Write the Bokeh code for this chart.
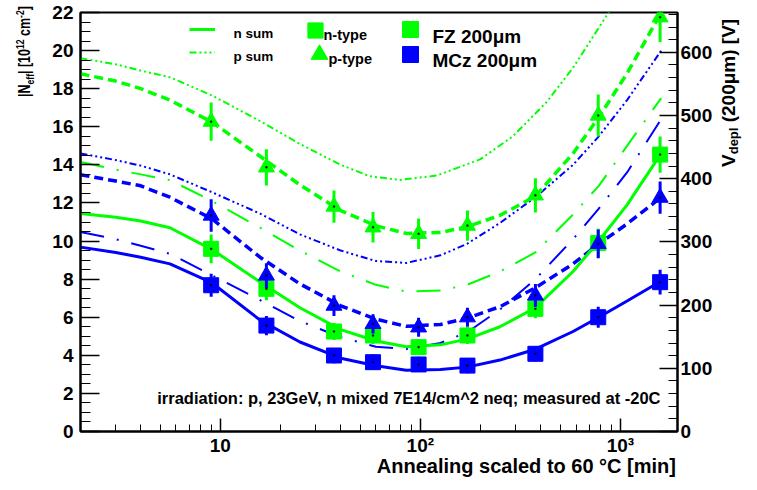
from bokeh.plotting import figure
from bokeh.layouts import row, column
from bokeh.models import (Range1d, LinearAxis, SingleIntervalTicker, FixedTicker,
                          Label, Legend, LegendItem, Div)
from bokeh.embed import file_html
from bokeh.resources import INLINE

FONT = "Liberation Sans"
GREEN = "#00ff00"
BLUE = "#0000ff"

# ---------------- data ----------------
anneal_t = [9, 17, 37, 58, 98, 172, 376, 775, 1580]          # min at 60C

fz_n = [9.59, 7.49, 5.25, 5.04, 4.43, 5.04, 6.44, 9.9, 14.54]
fz_n_err = [0.75, 0.6, 0.45, 0.45, 0.4, 0.45, 0.5, 0.75, 0.95]
mcz_n = [7.68, 5.56, 3.99, 3.64, 3.52, 3.46, 4.08, 6.0, 7.84]
mcz_n_err = [0.6, 0.5, 0.4, 0.4, 0.4, 0.4, 0.4, 0.55, 0.65]
fz_p = [16.27, 13.87, 11.81, 10.72, 10.38, 10.81, 12.4, 16.59, 21.75]
fz_p_err = [1.0, 0.95, 0.85, 0.8, 0.8, 0.8, 0.9, 1.1, 1.3]
mcz_p = [11.34, 8.19, 6.61, 5.65, 5.47, 6.0, 7.14, 9.85, 12.28]
mcz_p_err = [0.85, 0.65, 0.55, 0.5, 0.5, 0.5, 0.6, 0.75, 0.85]

# fitted / summed curves
fit_t = [2, 3, 4, 5.6, 9.1, 15.8, 25, 40, 60, 85, 126, 171, 250, 376, 580, 780, 1080, 1600]
mcz_n_fit = [9.68, 9.4, 9.15, 8.8, 7.8, 5.85, 4.7, 3.85, 3.45, 3.22, 3.25, 3.38, 3.75, 4.32, 5.25, 6.0, 6.85, 7.9]
fz_n_fit = [11.45, 11.25, 11.05, 10.7, 9.55, 7.85, 6.5, 5.35, 4.75, 4.45, 4.55, 4.85, 5.5, 6.5, 8.4, 10.0, 11.9, 14.6]
mcz_p_fit = [13.48, 13.15, 12.9, 12.3, 11.16, 9.15, 7.75, 6.6, 5.9, 5.52, 5.62, 5.95, 6.55, 7.55, 8.8, 9.85, 10.9, 12.3]
fz_p_fit = [18.78, 18.4, 18.0, 17.4, 16.24, 14.45, 12.95, 11.6, 10.8, 10.4, 10.45, 10.75, 11.35, 12.35, 14.6, 16.5, 18.8, 22.0]
fz_n_sum = [14.15, 13.75, 13.5, 13.2, 12.1, 10.7, 9.5, 8.4, 7.7, 7.35, 7.4, 7.7, 8.4, 9.4, 11.4, 12.9, 15.0, 17.5]
mcz_n_sum = [10.48, 10.1, 9.75, 9.33, 8.2, 6.9, 5.8, 4.95, 4.45, 4.33, 4.65, 5.2, 6.4, 8.0, 10.1, 11.7, 13.6, 16.4]
mcz_p_sum = [14.6, 14.25, 13.96, 13.5, 12.56, 11.44, 10.35, 9.5, 8.95, 8.85, 9.25, 9.85, 10.95, 12.3, 14.0, 15.5, 17.4, 20.0]
fz_p_sum_t = [2, 3, 4, 5.6, 9.1, 15.8, 25, 40, 56, 79, 121, 200, 290, 428, 580, 780, 880]
fz_p_sum = [19.6, 19.28, 18.95, 18.6, 17.64, 16.3, 15.1, 14.0, 13.4, 13.21, 13.44, 14.3, 15.5, 17.3, 19.1, 21.2, 22.05]

# axes
x_lo, x_hi = 2, 1930
y_lo, y_hi = 0, 22
v_lo, v_hi = 0, 663
x_major = [10, 100, 1000]
x_major_labels = ["10", "10\u00b2", "10\u00b3"]
x_minor = [2, 3, 4, 5, 6, 7, 8, 9, 20, 30, 40, 50, 60, 70, 80, 90,
           200, 300, 400, 500, 600, 700, 800, 900]

# ---------------- layout sizes (pixels of the whole picture) ----------------
TOTAL_W, TOTAL_H = 741, 474
LEFT_W, RIGHT_W = 40, 24
FIG_W = TOTAL_W - LEFT_W - RIGHT_W          # 677
FIG_H = 459
BOTTOM_H = TOTAL_H - FIG_H                  # 15
FRAME_L, FRAME_R, FRAME_T, FRAME_B = 80, 677, 12, 431

p = figure(width=FIG_W, height=FIG_H, x_axis_type="log",
           x_range=Range1d(x_lo, x_hi), y_range=Range1d(y_lo, y_hi),
           output_backend="svg", toolbar_location=None,
           min_border_left=FRAME_L - LEFT_W, min_border_right=LEFT_W + FIG_W - FRAME_R,
           min_border_top=FRAME_T, min_border_bottom=FIG_H - FRAME_B)
p.grid.visible = False
p.outline_line_color = "black"
p.outline_line_width = 2
p.background_fill_color = "white"
p.border_fill_color = "white"

# bottom axis
xa = p.xaxis[0]
xa.ticker = FixedTicker(ticks=x_major, minor_ticks=x_minor)
xa.major_label_overrides = dict(zip(x_major, x_major_labels))
xa.major_tick_in, xa.major_tick_out = 13, 0
xa.minor_tick_in, xa.minor_tick_out = 7, 0
xa.major_label_standoff = 3

# left axis
ya = p.yaxis[0]
ya.ticker = SingleIntervalTicker(interval=2, num_minor_ticks=4)
ya.major_tick_in, ya.major_tick_out = 19, 0
ya.minor_tick_in, ya.minor_tick_out = 10, 0
ya.major_label_standoff = 7

# right axis
p.extra_y_ranges = {"v": Range1d(v_lo, v_hi)}
ra = LinearAxis(y_range_name="v", ticker=SingleIntervalTicker(interval=100, num_minor_ticks=5))
ra.major_tick_in, ra.major_tick_out = 18, 0
ra.minor_tick_in, ra.minor_tick_out = 9, 0
ra.major_label_standoff = 3
p.add_layout(ra, "right")

for ax in (xa, ya, ra):
    ax.axis_line_width = 2
    ax.axis_line_color = "black"
    ax.major_tick_line_width = 1.5
    ax.minor_tick_line_width = 1
    ax.major_tick_line_color = "black"
    ax.minor_tick_line_color = "black"
    ax.major_label_text_font = FONT
    ax.major_label_text_font_style = "bold"
    ax.major_label_text_font_size = "19px"
    ax.major_label_text_color = "black"

# ---------------- curves ----------------
NSUM = "24 13 2 13"
PSUM = "7 3 2 3 2 3 2 3"
PFIT = "9 5"
p.line(fit_t, mcz_p_sum, line_color=BLUE, line_width=2, line_dash=PSUM)
r_psum = p.line(fz_p_sum_t, fz_p_sum, line_color=GREEN, line_width=2, line_dash=PSUM)
p.line(fit_t, mcz_n_sum, line_color=BLUE, line_width=2, line_dash=NSUM)
p.line(fit_t, fz_n_sum, line_color=GREEN, line_width=2, line_dash=NSUM)
p.line(fit_t, mcz_p_fit, line_color=BLUE, line_width=3.5, line_dash=PFIT)
p.line(fit_t, fz_p_fit, line_color=GREEN, line_width=3.5, line_dash=PFIT)
p.line(fit_t, mcz_n_fit, line_color=BLUE, line_width=3)
r_nline = p.line(fit_t, fz_n_fit, line_color=GREEN, line_width=3)

# ---------------- points with error bars ----------------
def points(vals, errs, color, marker, size):
    lo = [v - e for v, e in zip(vals, errs)]
    hi = [v + e for v, e in zip(vals, errs)]
    p.segment(x0=anneal_t, y0=lo, x1=anneal_t, y1=hi, line_color=color, line_width=3)
    r = p.scatter(anneal_t, vals, marker=marker, size=size, fill_color=color, line_color=color)
    p.scatter(anneal_t, vals, marker="square", size=1.5, fill_color="black", line_color="black",
              line_width=0.5)
    return r

r_fzn = points(fz_n, fz_n_err, GREEN, "square", 15)
r_fzp = points(fz_p, fz_p_err, GREEN, "triangle", 16)
r_mczn = points(mcz_n, mcz_n_err, BLUE, "square", 15)
r_mczp = points(mcz_p, mcz_p_err, BLUE, "triangle", 16)

# ---------------- legend keys (glyph only) + texts ----------------
def key(r, cx, cy, gw, gh):
    # glyph box centred at picture position (cx, cy)
    loc = (round(cx - gw / 2 - FRAME_L), round(FRAME_B - (cy + gh / 2)))
    lg = Legend(items=[LegendItem(label=" ", renderers=[r])], location=loc,
                glyph_width=gw, glyph_height=gh, label_height=gh, label_width=1,
                label_standoff=0, padding=0, margin=0, spacing=0,
                border_line_alpha=0, background_fill_alpha=0, label_text_font_size="1px")
    p.add_layout(lg, "center")

key(r_nline, 202, 29, 26, 24)
key(r_psum, 202, 52, 26, 24)
key(r_fzn, 315, 29.5, 38, 38)
key(r_fzp, 319, 54, 42, 42)
key(r_fzn, 410, 29, 40, 40)
key(r_mczn, 410, 54, 40, 40)

def ctext(txt, x, y, size, align="left"):
    # x, y: picture pixels -> canvas of the figure
    p.add_layout(Label(x=x - LEFT_W, y=y, x_units="canvas", y_units="canvas", text=txt,
                       text_align=align, text_baseline="alphabetic", text_font=FONT,
                       text_font_style="bold", text_font_size=size, text_color="black"))

ctext("n sum", 233, 32.5, "13.5px")
ctext("p sum", 233, 55.5, "13.5px")
ctext("n-type", 323, 34, "14.5px")
ctext("p-type", 328, 58.5, "14.5px")
ctext("FZ 200\u03bcm", 432, 35.5, "19px")
ctext("MCz 200\u03bcm", 432, 59.5, "19px")
ctext("irradiation: p, 23GeV, n mixed 7E14/cm^2 neq; measured at -20C",
      660, 397, "16.5px", align="right")

# ---------------- axis titles (HTML, real text) ----------------
BASE = "font-family:'Liberation Sans';font-weight:bold;color:#000;white-space:nowrap;"
SUB = "font-size:{s}px;position:relative;top:{t}px;"
left_html = (
    f'<div style="position:relative;width:{LEFT_W}px;height:{TOTAL_H}px;">'
    '<div style="position:absolute;left:17px;top:97px;transform-origin:0 0;'
    'transform:rotate(-90deg) scaleX(0.78);' + BASE + 'font-size:16px;line-height:16px;">'
    '|N<span style="' + SUB.format(s=11, t=4) + '">eff</span>| [10'
    '<span style="' + SUB.format(s=11, t=-6) + '">12</span> cm'
    '<span style="' + SUB.format(s=11, t=-6) + '">-2</span>]</div></div>'
)
right_html = (
    f'<div style="position:relative;width:{RIGHT_W}px;height:{TOTAL_H}px;">'
    '<div style="position:absolute;left:2px;top:167px;transform-origin:0 0;'
    'transform:rotate(-90deg);' + BASE + 'font-size:19px;line-height:19px;">'
    'V<span style="' + SUB.format(s=13, t=3) + '">depl</span> (200\u03bcm) [V]</div></div>'
)
bottom_html = (
    f'<div style="position:relative;width:{FIG_W}px;height:{BOTTOM_H}px;">'
    f'<div style="position:absolute;right:{LEFT_W + FIG_W - 676}px;top:-3px;' + BASE +
    'font-size:20px;line-height:20px;">Annealing scaled to 60 \u00b0C [min]</div></div>'
)
left_div = Div(text=left_html, width=LEFT_W, height=TOTAL_H, margin=0)
right_div = Div(text=right_html, width=RIGHT_W, height=TOTAL_H, margin=0)
bottom_div = Div(text=bottom_html, width=FIG_W, height=BOTTOM_H, margin=0)

layout = row(left_div, column(p, bottom_div), right_div)
open("out.html", "w").write(file_html(layout, INLINE))
